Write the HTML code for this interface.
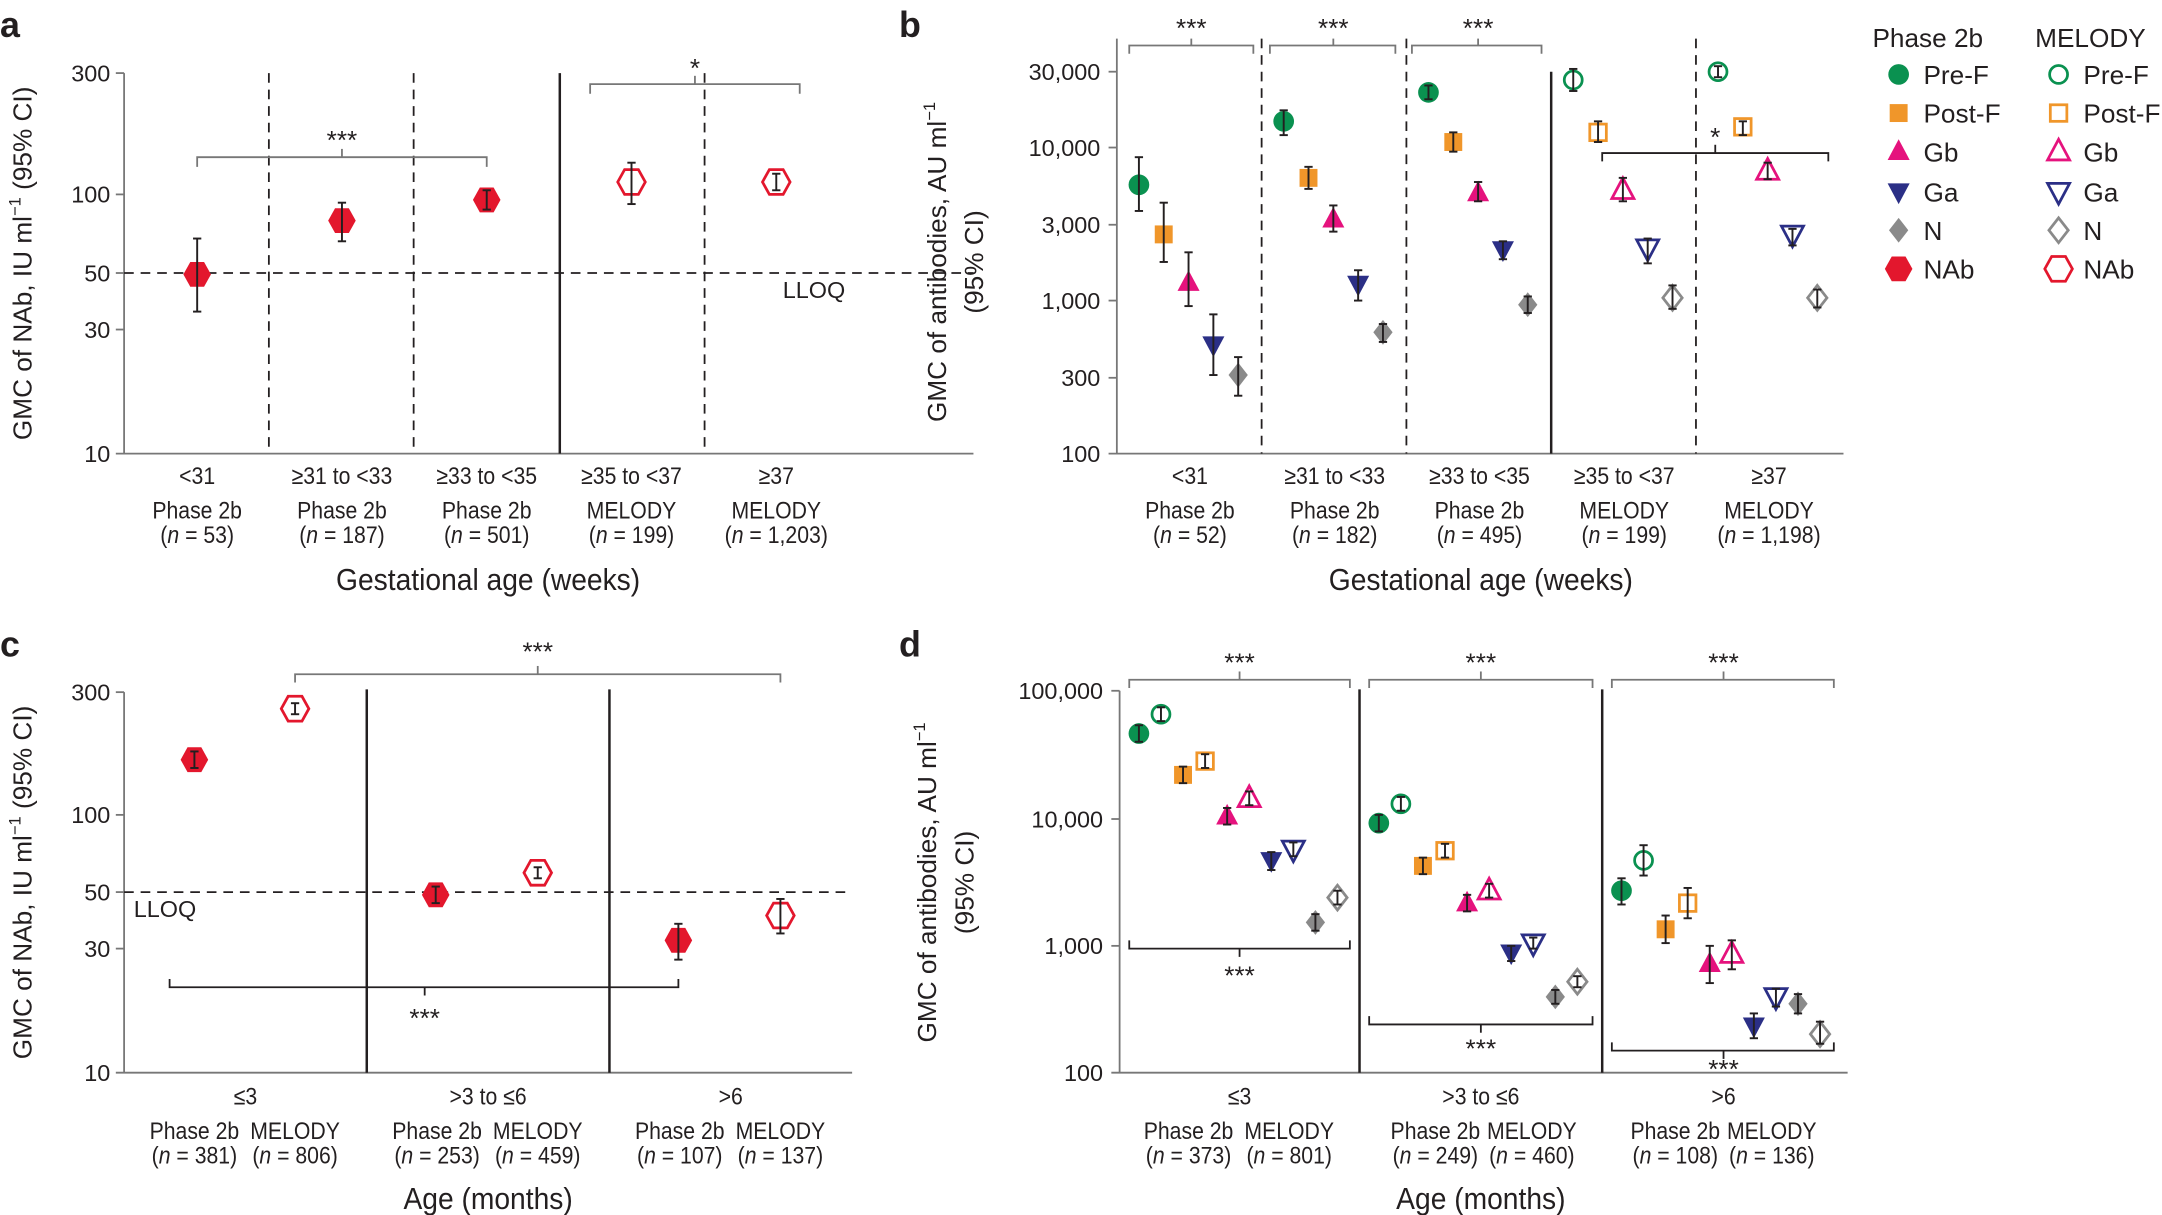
<!DOCTYPE html>
<html><head><meta charset="utf-8"><style>
html,body{margin:0;padding:0;background:#fff;}
svg{display:block;}
text{font-family:"Liberation Sans Narrow","Liberation Sans",sans-serif;fill:#231f20;}
.t{font-size:17px;}
.c{font-size:17.5px;}
.ax{font-size:22px;}
.yt{font-family:"Liberation Sans",sans-serif;font-size:19px;}
.pl{font-family:"Liberation Sans",sans-serif;font-weight:bold;font-size:26px;}
.st{font-family:"Liberation Sans",sans-serif;font-size:19px;}
.lg{font-size:19px;}
</style></head><body>
<svg id="s" width="2162" height="1215" viewBox="0 0 1568 881.2" preserveAspectRatio="none" xmlns="http://www.w3.org/2000/svg">
<rect width="1568" height="882" fill="#fff"/>
<g stroke="#231f20" fill="none" stroke-width="1.3">
<line x1="90" y1="53" x2="90" y2="329" stroke="#777"/>
<line x1="84" y1="329" x2="706" y2="329" stroke="#777"/>
<g stroke="#777"><line x1="84" y1="53" x2="90" y2="53"/><line x1="84" y1="141" x2="90" y2="141"/><line x1="84" y1="198" x2="90" y2="198"/><line x1="84" y1="239" x2="90" y2="239"/></g>
<g stroke-dasharray="7,5"><line x1="195" y1="53" x2="195" y2="329"/><line x1="300" y1="53" x2="300" y2="329"/><line x1="511" y1="53" x2="511" y2="329"/><line x1="90" y1="198" x2="706" y2="198"/></g>
<line x1="406" y1="53" x2="406" y2="329" stroke-width="1.8"/>
<g stroke="#777"><polyline points="143,121 143,114 353,114 353,121"/><line x1="248" y1="114" x2="248" y2="108"/>
<polyline points="428,68 428,61 580,61 580,68"/><line x1="504" y1="61" x2="504" y2="55"/></g>
<line x1="810" y1="28" x2="810" y2="329" stroke="#777"/>
<line x1="804" y1="329" x2="1337" y2="329" stroke="#777"/>
<g stroke="#777"><line x1="804" y1="52" x2="810" y2="52"/><line x1="804" y1="107" x2="810" y2="107"/><line x1="804" y1="163" x2="810" y2="163"/><line x1="804" y1="218" x2="810" y2="218"/><line x1="804" y1="274" x2="810" y2="274"/></g>
<g stroke-dasharray="7,5"><line x1="915" y1="28" x2="915" y2="329"/><line x1="1020" y1="28" x2="1020" y2="329"/><line x1="1230" y1="28" x2="1230" y2="329"/></g>
<line x1="1125" y1="52" x2="1125" y2="329" stroke-width="1.8"/>
<g stroke="#777"><polyline points="819,39 819,33 909,33 909,39"/><line x1="864" y1="33" x2="864" y2="28"/>
<polyline points="921,39 921,33 1012,33 1012,39"/><line x1="967" y1="33" x2="967" y2="28"/>
<polyline points="1024,39 1024,33 1118,33 1118,39"/><line x1="1072" y1="33" x2="1072" y2="28"/></g>
<polyline points="1162,117 1162,111 1326,111 1326,117"/><line x1="1244" y1="111" x2="1244" y2="105"/>
<line x1="90" y1="502" x2="90" y2="778" stroke="#777"/>
<line x1="84" y1="778" x2="618" y2="778" stroke="#777"/>
<g stroke="#777"><line x1="84" y1="502" x2="90" y2="502"/><line x1="84" y1="591" x2="90" y2="591"/><line x1="84" y1="647" x2="90" y2="647"/><line x1="84" y1="688" x2="90" y2="688"/></g>
<line x1="266" y1="500" x2="266" y2="778" stroke-width="1.8"/><line x1="442" y1="500" x2="442" y2="778" stroke-width="1.8"/>
<line x1="90" y1="647" x2="618" y2="647" stroke-dasharray="7,5"/>
<g stroke="#777"><polyline points="214,495 214,489 566,489 566,495"/><line x1="390" y1="489" x2="390" y2="483"/></g>
<polyline points="123,710 123,716 492,716 492,710"/><line x1="308" y1="716" x2="308" y2="722"/>
<line x1="812" y1="501" x2="812" y2="778" stroke="#777"/>
<line x1="806" y1="778" x2="1340" y2="778" stroke="#777"/>
<g stroke="#777"><line x1="806" y1="501" x2="812" y2="501"/><line x1="806" y1="594" x2="812" y2="594"/><line x1="806" y1="686" x2="812" y2="686"/></g>
<line x1="986" y1="500" x2="986" y2="778" stroke-width="1.8"/><line x1="1162" y1="500" x2="1162" y2="778" stroke-width="1.8"/>
<g stroke="#777"><polyline points="819,499 819,493 979,493 979,499"/><line x1="899" y1="493" x2="899" y2="487"/>
<polyline points="993,499 993,493 1155,493 1155,499"/><line x1="1074" y1="493" x2="1074" y2="487"/>
<polyline points="1169,499 1169,493 1330,493 1330,499"/><line x1="1250" y1="493" x2="1250" y2="487"/></g>
<polyline points="819,682 819,688 979,688 979,682"/><line x1="899" y1="688" x2="899" y2="694"/>
<polyline points="993,737 993,743 1155,743 1155,737"/><line x1="1074" y1="743" x2="1074" y2="749"/>
<polyline points="1169,756 1169,762 1330,762 1330,756"/><line x1="1250" y1="762" x2="1250" y2="768"/>
</g>
<g id="m"></g>
<text class="pl" x="0" y="27">a</text><text class="pl" x="652" y="27">b</text>
<text class="pl" x="0" y="476">c</text><text class="pl" x="652" y="476">d</text>
<g class="t" text-anchor="end">
<text x="80" y="59">300</text><text x="80" y="147">100</text><text x="80" y="204">50</text><text x="80" y="245">30</text><text x="80" y="335">10</text>
<text x="798" y="58">30,000</text><text x="798" y="113">10,000</text><text x="798" y="169">3,000</text><text x="798" y="224">1,000</text><text x="798" y="280">300</text><text x="798" y="335">100</text>
<text x="80" y="508">300</text><text x="80" y="597">100</text><text x="80" y="653">50</text><text x="80" y="694">30</text><text x="80" y="784">10</text>
<text x="800" y="507">100,000</text><text x="800" y="600">10,000</text><text x="800" y="692">1,000</text><text x="800" y="784">100</text>
<text x="613" y="216">LLOQ</text>
</g>
<g class="t"><text x="97" y="665">LLOQ</text></g>
<g class="st" text-anchor="middle">
<text x="248" y="108">***</text><text x="504" y="56">*</text>
<text x="864" y="27">***</text><text x="967" y="27">***</text><text x="1072" y="27">***</text><text x="1244" y="106">*</text>
<text x="390" y="479">***</text><text x="308" y="745">***</text>
<text x="899" y="487">***</text><text x="1074" y="487">***</text><text x="1250" y="487">***</text>
<text x="899" y="714">***</text><text x="1074" y="767">***</text><text x="1250" y="782">***</text>
</g>
<g class="c n" text-anchor="middle" data-f="0.88">
<text x="143" y="351">&lt;31</text><text x="248" y="351">≥31 to &lt;33</text><text x="353" y="351">≥33 to &lt;35</text><text x="458" y="351">≥35 to &lt;37</text><text x="563" y="351">≥37</text>
<text x="143" y="376">Phase 2b</text><text x="248" y="376">Phase 2b</text><text x="353" y="376">Phase 2b</text><text x="458" y="376">MELODY</text><text x="563" y="376">MELODY</text>
<text x="143" y="394">(<tspan font-style="italic">n</tspan> = 53)</text><text x="248" y="394">(<tspan font-style="italic">n</tspan> = 187)</text><text x="353" y="394">(<tspan font-style="italic">n</tspan> = 501)</text><text x="458" y="394">(<tspan font-style="italic">n</tspan> = 199)</text><text x="563" y="394">(<tspan font-style="italic">n</tspan> = 1,203)</text>
<text x="863" y="351">&lt;31</text><text x="968" y="351">≥31 to &lt;33</text><text x="1073" y="351">≥33 to &lt;35</text><text x="1178" y="351">≥35 to &lt;37</text><text x="1283" y="351">≥37</text>
<text x="863" y="376">Phase 2b</text><text x="968" y="376">Phase 2b</text><text x="1073" y="376">Phase 2b</text><text x="1178" y="376">MELODY</text><text x="1283" y="376">MELODY</text>
<text x="863" y="394">(<tspan font-style="italic">n</tspan> = 52)</text><text x="968" y="394">(<tspan font-style="italic">n</tspan> = 182)</text><text x="1073" y="394">(<tspan font-style="italic">n</tspan> = 495)</text><text x="1178" y="394">(<tspan font-style="italic">n</tspan> = 199)</text><text x="1283" y="394">(<tspan font-style="italic">n</tspan> = 1,198)</text>
<text x="178" y="801">≤3</text><text x="354" y="801">&gt;3 to ≤6</text><text x="530" y="801">&gt;6</text>
<text x="141" y="826">Phase 2b</text><text x="214" y="826">MELODY</text><text x="317" y="826">Phase 2b</text><text x="390" y="826">MELODY</text><text x="493" y="826">Phase 2b</text><text x="566" y="826">MELODY</text>
<text x="141" y="844">(<tspan font-style="italic">n</tspan> = 381)</text><text x="214" y="844">(<tspan font-style="italic">n</tspan> = 806)</text><text x="317" y="844">(<tspan font-style="italic">n</tspan> = 253)</text><text x="390" y="844">(<tspan font-style="italic">n</tspan> = 459)</text><text x="493" y="844">(<tspan font-style="italic">n</tspan> = 107)</text><text x="566" y="844">(<tspan font-style="italic">n</tspan> = 137)</text>
<text x="899" y="801">≤3</text><text x="1074" y="801">&gt;3 to ≤6</text><text x="1250" y="801">&gt;6</text>
<text x="862" y="826">Phase 2b</text><text x="935" y="826">MELODY</text><text x="1041" y="826">Phase 2b</text><text x="1111" y="826">MELODY</text><text x="1215" y="826">Phase 2b</text><text x="1285" y="826">MELODY</text>
<text x="862" y="844">(<tspan font-style="italic">n</tspan> = 373)</text><text x="935" y="844">(<tspan font-style="italic">n</tspan> = 801)</text><text x="1041" y="844">(<tspan font-style="italic">n</tspan> = 249)</text><text x="1111" y="844">(<tspan font-style="italic">n</tspan> = 460)</text><text x="1215" y="844">(<tspan font-style="italic">n</tspan> = 108)</text><text x="1285" y="844">(<tspan font-style="italic">n</tspan> = 136)</text>
</g>
<g class="ax n" text-anchor="middle" data-f="0.93">
<text x="354" y="428">Gestational age (weeks)</text><text x="1074" y="428">Gestational age (weeks)</text>
<text x="354" y="877">Age (months)</text><text x="1074" y="877">Age (months)</text>
</g>
<g class="yt" text-anchor="middle">
<text transform="translate(23,191) rotate(-90)">GMC of NAb, IU ml<tspan font-size="12" dy="-8">−1</tspan><tspan dy="8"> (95% CI)</tspan></text>
<text transform="translate(686,190) rotate(-90)">GMC of antibodies, AU ml<tspan font-size="12" dy="-8">−1</tspan></text>
<text transform="translate(713,190) rotate(-90)">(95% CI)</text>
<text transform="translate(679,640) rotate(-90)">GMC of antibodies, AU ml<tspan font-size="12" dy="-8">−1</tspan></text>
<text transform="translate(706,640) rotate(-90)">(95% CI)</text>
<text transform="translate(23,640) rotate(-90)">GMC of NAb, IU ml<tspan font-size="12" dy="-8">−1</tspan><tspan dy="8"> (95% CI)</tspan></text>
</g>
<g class="lg">
<text x="1358" y="34">Phase 2b</text><text x="1476" y="34">MELODY</text>
<text x="1395" y="61">Pre-F</text><text x="1511" y="61">Pre-F</text>
<text x="1395" y="89">Post-F</text><text x="1511" y="89">Post-F</text>
<text x="1395" y="117">Gb</text><text x="1511" y="117">Gb</text>
<text x="1395" y="146">Ga</text><text x="1511" y="146">Ga</text>
<text x="1395" y="174">N</text><text x="1511" y="174">N</text>
<text x="1395" y="202">NAb</text><text x="1511" y="202">NAb</text>
</g>
</svg>
<script>
(function(){
var C={P:'#0a9150',Q:'#f0962a',G:'#e5127d',A:'#2b2f86',N:'#8a8a8a',H:'#e3172d'};
var g=document.getElementById('m'),h='';
function shape(t,x,y,open){
 var c=C[t],a=open?'fill="#fff" stroke="'+c+'" stroke-width="2"':'fill="'+c+'"';
 switch(t){
 case 'P':return '<circle cx="'+x+'" cy="'+y+'" r="'+(open?6.5:7.5)+'" '+a+'/>';
 case 'Q':var s=open?12:13;return '<rect x="'+(x-s/2)+'" y="'+(y-s/2)+'" width="'+s+'" height="'+s+'" '+a+'/>';
 case 'G':return '<polygon points="'+x+','+(y-9)+' '+(x+8)+','+(y+6)+' '+(x-8)+','+(y+6)+'" '+a+'/>';
 case 'A':return '<polygon points="'+x+','+(y+9)+' '+(x+8)+','+(y-6)+' '+(x-8)+','+(y-6)+'" '+a+'/>';
 case 'N':return '<polygon points="'+x+','+(y-9)+' '+(x+7)+','+y+' '+x+','+(y+9)+' '+(x-7)+','+y+'" '+a+'/>';
 case 'H':return '<polygon points="'+(x-10)+','+y+' '+(x-5)+','+(y-9)+' '+(x+5)+','+(y-9)+' '+(x+10)+','+y+' '+(x+5)+','+(y+9)+' '+(x-5)+','+(y+9)+'" '+a+'/>';
 }}
function eb(x,lo,hi){return '<g stroke="#231f20" stroke-width="1.4"><line x1="'+x+'" y1="'+lo+'" x2="'+x+'" y2="'+hi+'"/><line x1="'+(x-3)+'" y1="'+lo+'" x2="'+(x+3)+'" y2="'+lo+'"/><line x1="'+(x-3)+'" y1="'+hi+'" x2="'+(x+3)+'" y2="'+hi+'"/></g>';}
function pt(t,x,y,lo,hi,open){h+=shape(t,x,y,open)+eb(x,lo,hi);}
pt('H',143,199,173,226,0);pt('H',248,160,147,175,0);pt('H',353,145,138,152,0);pt('H',458,132,118,148,1);pt('H',563,132,126,138,1);
var T=['P','Q','G','A','N'];
var B=[[826,[134,114,153],[170,147,190],[205,183,222],[250,228,272],[272,259,287],0],
[931,[88,80,98],[129,121,137],[159,149,168],[206,196,218],[241,235,248],0],
[1036,[67,62,72],[103,96,110],[140,132,146],[181,175,188],[221,215,227],0],
[1141,[58,50,66],[96,88,103],[138,129,146],[180,173,191],[216,207,224],1],
[1246,[52,48,56],[92,88,98],[124,118,130],[170,166,178],[216,210,223],1]];
B.forEach(function(r){for(var i=0;i<5;i++){var v=r[i+1];pt(T[i],r[0]+18*i,v[0],v[1],v[2],r[6]);}});
pt('H',141,551,545,557,0);pt('H',214,514,510,518,1);pt('H',316,649,643,655,0);pt('H',390,633,629,637,1);pt('H',492,682,670,696,0);pt('H',566,664,652,677,1);
var D=[[826,[532,526,538],[518,513,523],[562,556,568],[552,547,557],[592,586,598],[579,574,584],[624,618,631],[616,611,621],[669,663,675],[651,646,656]],
[1000,[597,591,603],[583,578,588],[628,622,634],[617,612,622],[655,649,661],[646,641,651],[691,686,697],[684,680,688],[723,718,728],[712,708,716]],
[1176,[646,637,656],[624,613,635],[674,664,684],[655,644,666],[699,686,713],[692,682,703],[744,735,753],[723,717,730],[728,721,735],[750,741,757]]];
D.forEach(function(r){for(var i=0;i<10;i++){var v=r[i+1];pt(T[i>>1],r[0]+16*i,v[0],v[1],v[2],i%2);}});
var ly=[54,82,110,139,167,195],lt=['P','Q','G','A','N','H'];
for(var i=0;i<6;i++){h+=shape(lt[i],1377,ly[i],0)+shape(lt[i],1493,ly[i],1);}
g.innerHTML=h;
var gs=document.querySelectorAll('g.n');
for(var j=0;j<gs.length;j++){var f=parseFloat(gs[j].getAttribute('data-f'));var ts=gs[j].querySelectorAll('text');
for(var k=0;k<ts.length;k++){var e=ts[k];try{var L=e.getComputedTextLength();e.setAttribute('textLength',(L*f).toFixed(1));e.setAttribute('lengthAdjust','spacingAndGlyphs');}catch(x){}}}
})();
</script>
</body></html>
